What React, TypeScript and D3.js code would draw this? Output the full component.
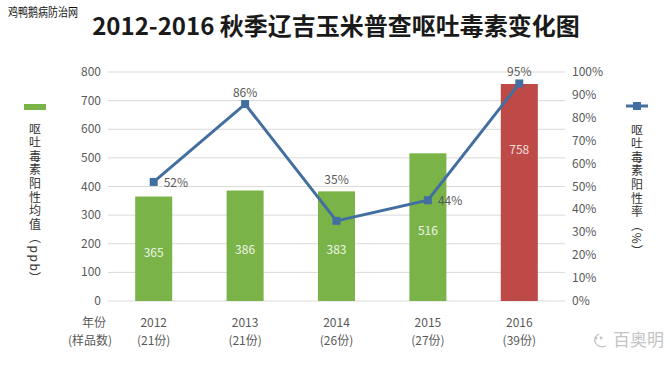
import React from "react";
import * as d3 from "d3";

const years = ["2012", "2013", "2014", "2015", "2016"];
const samples = ["(21份)", "(21份)", "(26份)", "(27份)", "(39份)"];
const meanValues = [365, 386, 383, 516, 758];
const positiveRates = [52, 86, 35, 44, 95];
const leftTicks = [0, 100, 200, 300, 400, 500, 600, 700, 800];
const rightTicks = [0, 10, 20, 30, 40, 50, 60, 70, 80, 90, 100];
const rateLabelSide = ["right", "top", "top", "right", "top"];

const W = 670;
const H = 366;
const FONT = "'Noto Sans CJK SC', 'Noto Sans', sans-serif";
const GREEN = "#7ab449";
const RED = "#bd4a47";
const BLUE = "#426f9f";
const TXT = "#595959";

export default function App() {
  const x = d3.scaleBand<string>().domain(years).range([108, 565]).paddingInner(0.595).paddingOuter(0.2975);
  const yL = d3.scaleLinear().domain([0, 800]).range([301, 72]);
  const yR = d3.scaleLinear().domain([0, 100]).range([301, 72]);
  const cx = (i: number) => (x(years[i]) as number) + x.bandwidth() / 2;
  const line = d3
    .line<number>()
    .x((_, i) => cx(i))
    .y((d) => yR(d));

  return (
    <svg width={W} height={H} style={{ position: "absolute", left: 0, top: 0, background: "#fff" }} fontFamily={FONT}>
      <text x={8} y={17} fontSize={12} fill="#111" textLength={70} lengthAdjust="spacingAndGlyphs">鸡鸭鹅病防治网</text>
      <text x={336} y={35} fontSize={24} fontWeight="bold" fill="#1a1a1a" textAnchor="middle">
        2012-2016 秋季辽吉玉米普查呕吐毒素变化图
      </text>

      {leftTicks.map((t) => (
        <g key={"g" + t}>
          <line x1={108} x2={565} y1={yL(t)} y2={yL(t)} stroke="#d9d9d9" strokeWidth={1} />
          <text x={101} y={yL(t) + 4} fontSize={12} fill={TXT} textAnchor="end">{t}</text>
        </g>
      ))}
      {rightTicks.map((t) => (
        <text key={"r" + t} x={572} y={yR(t) + 4} fontSize={12} fill={TXT}>{t}%</text>
      ))}

      {meanValues.map((v, i) => (
        <rect
          key={"b" + i}
          x={x(years[i])}
          y={yL(v)}
          width={x.bandwidth()}
          height={yL(0) - yL(v)}
          fill={i === meanValues.length - 1 ? RED : GREEN}
        />
      ))}
      {meanValues.map((v, i) => (
        <text
          key={"bl" + i}
          x={cx(i)}
          y={i === meanValues.length - 1 ? yL(v) + 70 : yL(v / 2) + 8}
          fontSize={12}
          fill={i === meanValues.length - 1 ? "#f5dcdc" : "#eef5e6"}
          textAnchor="middle"
        >
          {v}
        </text>
      ))}

      <path d={line(positiveRates) as string} fill="none" stroke={BLUE} strokeWidth={3} />
      {positiveRates.map((r, i) => (
        <rect key={"m" + i} x={cx(i) - 4} y={yR(r) - 4} width={8} height={8} fill={BLUE} />
      ))}
      {positiveRates.map((r, i) =>
        rateLabelSide[i] === "right" ? (
          <text key={"rl" + i} x={cx(i) + 10} y={yR(r) + 5} fontSize={12} fill={TXT}>{r}%</text>
        ) : (
          <text
            key={"rl" + i}
            x={cx(i)}
            y={Math.min(yR(r), yL(meanValues[i])) - 7}
            fontSize={12}
            fill={TXT}
            textAnchor="middle"
          >
            {r}%
          </text>
        )
      )}

      {years.map((y, i) => (
        <g key={"x" + i}>
          <text x={cx(i)} y={327} fontSize={12} fill={TXT} textAnchor="middle">{y}</text>
          <text x={cx(i)} y={345} fontSize={12} fill={TXT} textAnchor="middle">{samples[i]}</text>
        </g>
      ))}
      <text x={94} y={327} fontSize={12} fill={TXT} textAnchor="middle">年份</text>
      <text x={90} y={345} fontSize={12} fill={TXT} textAnchor="middle">(样品数)</text>

      <rect x={24} y={104} width={22} height={6} fill={GREEN} />
      <text x={35} y={123} fontSize={12} fill="#333" letterSpacing={1.6} style={{ writingMode: "vertical-rl" } as any}>
        呕吐毒素阳性均值（ppb）
      </text>

      <line x1={626} x2={648} y1={106} y2={106} stroke={BLUE} strokeWidth={3} />
      <rect x={633} y={102} width={8} height={8} fill={BLUE} />
      <text x={637} y={124} fontSize={12} fill="#333" letterSpacing={1.6} style={{ writingMode: "vertical-rl" } as any}>
        呕吐毒素阳性率（%）
      </text>

      <g stroke="#c4c4c4" fill="none" strokeWidth={1.3}>
        <path d="M 599 334 A 7 6 0 1 0 606 346" />
        <circle cx={596} cy={338} r={0.8} fill="#c4c4c4" />
        <circle cx={601} cy={338} r={0.8} fill="#c4c4c4" />
      </g>
      <text x={613} y={346} fontSize={17} fill="#c4c4c4">百奥明</text>
    </svg>
  );
}
